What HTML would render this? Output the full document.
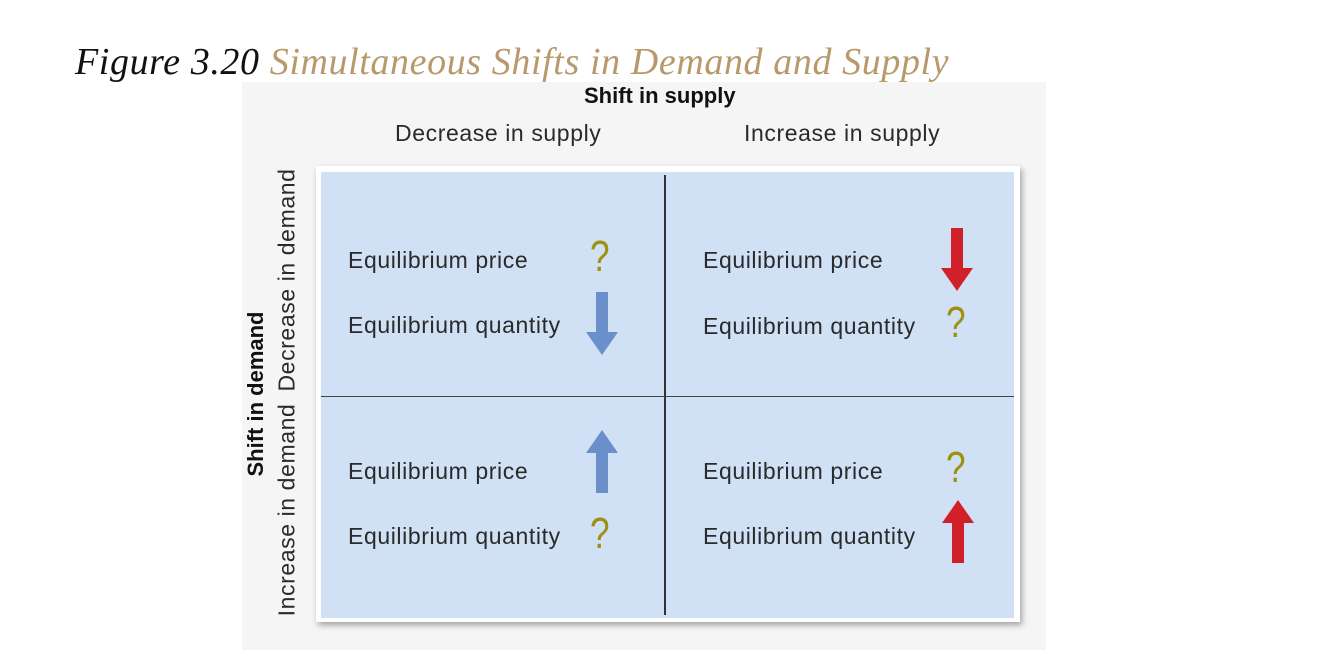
<!DOCTYPE html>
<html><head><meta charset="utf-8"><style>
body{margin:0;width:1319px;height:654px;background:#fff;position:relative;overflow:hidden;font-family:"Liberation Sans",sans-serif}
.a{position:absolute;white-space:nowrap}
.t{font-size:23px;color:#2a2a2a;letter-spacing:0.6px}
.q{font-size:44px;color:#a09010;transform:scaleX(0.8);transform-origin:left top}
</style></head><body>
<div class="a" style="left:75px;top:40px;font-family:'Liberation Serif',serif;font-style:italic;font-size:38px;letter-spacing:0.6px;color:#111">Figure 3.20 <span style="color:#b8996c">Simultaneous Shifts in Demand and Supply</span></div>
<div class="a" style="left:242px;top:82px;width:804px;height:568px;background:#f5f5f5"></div>
<div class="a" style="left:584px;top:83px;font-size:22px;font-weight:bold;color:#111">Shift in supply</div>
<div class="a t" style="left:395px;top:120px">Decrease in supply</div>
<div class="a t" style="left:744px;top:120px">Increase in supply</div>
<div class="a" style="left:256px;top:394px;transform:translate(-50%,-50%) rotate(-90deg);font-size:22px;font-weight:bold;color:#111">Shift in demand</div>
<div class="a t" style="left:287px;top:280px;transform:translate(-50%,-50%) rotate(-90deg)">Decrease in demand</div>
<div class="a t" style="left:287px;top:510px;transform:translate(-50%,-50%) rotate(-90deg)">Increase in demand</div>
<div class="a" style="left:316px;top:166px;width:704px;height:456px;background:#fff;box-shadow:2px 3px 6px rgba(0,0,0,.35)"></div>
<div class="a" style="left:321px;top:172px;width:693px;height:446px;background:#d0e1f5"></div>
<div class="a" style="left:664px;top:175px;width:2px;height:440px;background:#333"></div>
<div class="a" style="left:321px;top:396px;width:693px;height:1px;background:#444"></div>

<div class="a t" style="left:348px;top:247px">Equilibrium price</div>
<div class="a t" style="left:348px;top:312px">Equilibrium quantity</div>
<div class="a q" style="left:590px;top:232px">?</div>
<svg class="a" style="left:585px;top:292px" width="34" height="64"><polygon points="11,0 23,0 23,40 33,40 17,63 1,40 11,40" fill="#6a8fcb"/></svg>

<div class="a t" style="left:703px;top:247px">Equilibrium price</div>
<div class="a t" style="left:703px;top:313px">Equilibrium quantity</div>
<svg class="a" style="left:940px;top:228px" width="34" height="64"><polygon points="11,0 23,0 23,40 33,40 17,63 1,40 11,40" fill="#d2202a"/></svg>
<div class="a q" style="left:946px;top:298px">?</div>

<div class="a t" style="left:348px;top:458px">Equilibrium price</div>
<div class="a t" style="left:348px;top:523px">Equilibrium quantity</div>
<svg class="a" style="left:585px;top:430px" width="34" height="64"><polygon points="17,0 33,23 23,23 23,63 11,63 11,23 1,23" fill="#6a8fcb"/></svg>
<div class="a q" style="left:590px;top:509px">?</div>

<div class="a t" style="left:703px;top:458px">Equilibrium price</div>
<div class="a t" style="left:703px;top:523px">Equilibrium quantity</div>
<div class="a q" style="left:946px;top:443px">?</div>
<svg class="a" style="left:941px;top:500px" width="34" height="64"><polygon points="17,0 33,23 23,23 23,63 11,63 11,23 1,23" fill="#d2202a"/></svg>
</body></html>
